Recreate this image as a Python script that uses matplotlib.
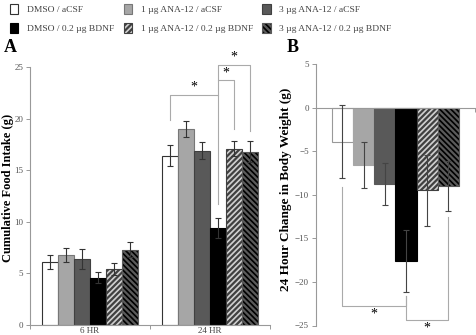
import matplotlib
matplotlib.use("Agg")
import matplotlib.pyplot as plt
import numpy as np

plt.rcParams['font.family'] = ['Liberation Serif', 'DejaVu Serif']
plt.rcParams['hatch.linewidth'] = 1.6

# ---------------- data ----------------
groups = ["DMSO / aCSF", "1 \u00b5g ANA-12 / aCSF", "3 \u00b5g ANA-12 / aCSF",
          "DMSO / 0.2 \u00b5g BDNF", "1 \u00b5g ANA-12 / 0.2 \u00b5g BDNF",
          "3 \u00b5g ANA-12 / 0.2 \u00b5g BDNF"]
timepoints = ["6 HR", "24 HR"]
intake_6hr = [6.1, 6.8, 6.4, 4.6, 5.4, 7.3]
intake_6hr_err = [0.7, 0.7, 1.0, 0.5, 0.6, 0.7]
intake_24hr = [16.4, 19.0, 16.9, 9.4, 17.1, 16.8]
intake_24hr_err = [1.0, 0.8, 0.8, 1.0, 0.7, 1.0]
bw_change = [-3.9, -6.6, -8.8, -17.6, -9.5, -9.0]
bw_change_err = [4.2, 2.65, 2.4, 3.5, 4.05, 2.9]
yticks_a = [0, 5, 10, 15, 20, 25]
yticks_b = [5, 0, -5, -10, -15, -20, -25]

faces = ['white', '#a6a6a6', '#595959', 'black', '#d0d0d0', 'black']
edges_a = ['#333333', '#777777', '#404040', 'black', '#404040', '#5a5a5a']
hatches = [None, None, None, None, '//////', '\\\\\\\\\\\\']

W, H = 477, 335
fig = plt.figure(figsize=(W / 100, H / 100), dpi=100)

axA = fig.add_axes([30 / W, (H - 325) / H, 240 / W, 258 / H])
axB = fig.add_axes([316 / W, (H - 325.5) / H, 159 / W, 261.5 / H])

bw = 0.8 / 6
offsets = (np.arange(6) - 2.5) * bw
centers = np.array([0.5, 1.5])

# ---------- panel A ----------
bars_handles = []
for i in range(6):
    vals = [intake_6hr[i], intake_24hr[i]]
    errs = [intake_6hr_err[i], intake_24hr_err[i]]
    b = axA.bar(centers + offsets[i], vals, width=bw, color=faces[i],
                edgecolor=edges_a[i], linewidth=0.8, hatch=hatches[i],
                label=groups[i], zorder=2)
    bars_handles.append(b)
    axA.errorbar(centers + offsets[i], vals, yerr=errs, fmt='none',
                 ecolor='#333333', elinewidth=0.8, capsize=2.2,
                 capthick=0.8, zorder=3)

axA.set_xlim(0, 2)
axA.set_ylim(0, 25)
axA.set_yticks(yticks_a)
axA.set_xticks(centers)
axA.set_xticklabels(timepoints)
axA.set_xticks([0, 1, 2], minor=True)
axA.tick_params(axis='x', which='major', length=0, pad=1.5, labelsize=6.5,
                labelcolor='#444444')
axA.tick_params(axis='x', which='minor', length=3, width=0.7, color='#999999',
                direction='out')
axA.tick_params(axis='y', length=3, width=0.7, color='#999999', pad=2,
                labelsize=6.5, labelcolor='#555555')
for s in ['top', 'right']:
    axA.spines[s].set_visible(False)
for s in ['left', 'bottom']:
    axA.spines[s].set_color('#999999')
    axA.spines[s].set_linewidth(0.8)
axA.set_ylabel("Cumulative Food Intake (g)", fontsize=9, fontweight='bold')
axA.yaxis.set_label_coords(-0.068, 0.53)

# significance brackets (panel A)
xw, xb, xh, xbh = 1.5 + offsets[0], 1.5 + offsets[3], 1.5 + offsets[4], 1.5 + offsets[5]
br_col = '#aaaaaa'
axA.plot([xw, xw, xb, xb], [19.9, 22.3, 22.3, 11.7], color=br_col, lw=0.8, clip_on=False)
axA.plot([xb, xb, xh, xh], [22.3, 23.7, 23.7, 19.0], color=br_col, lw=0.8, clip_on=False)
axA.plot([xb, xb, xbh, xbh], [23.7, 25.2, 25.2, 18.8], color=br_col, lw=0.8, clip_on=False)
for xm, ym in [((xw + xb) / 2, 22.4), ((xb + xh) / 2, 23.8), ((xb + xbh) / 2, 25.3)]:
    axA.text(xm, ym, '*', ha='center', va='bottom', fontsize=10, clip_on=False)

# ---------- panel B ----------
edges_b = ['#999999', '#a6a6a6', '#595959', 'black', '#404040', '#5a5a5a']
for i in range(6):
    axB.bar(offsets[i], bw_change[i], width=bw, color=faces[i],
            edgecolor=edges_b[i], linewidth=0.8, hatch=hatches[i], zorder=2)
    axB.errorbar(offsets[i], bw_change[i], yerr=bw_change_err[i], fmt='none',
                 ecolor='#444444', elinewidth=0.8, capsize=2.2, capthick=0.8,
                 zorder=3)
axB.set_xlim(-0.5, 0.5)
axB.set_ylim(-25, 5)
axB.set_yticks(yticks_b)
axB.set_xticks([0.5])
axB.set_xticklabels([])
axB.tick_params(axis='x', length=3, width=0.7, color='#999999', direction='out')
axB.tick_params(axis='y', length=3, width=0.7, color='#999999', pad=2,
                labelsize=6.5, labelcolor='#555555')
axB.spines['bottom'].set_position(('data', 0))
for s in ['top', 'right']:
    axB.spines[s].set_visible(False)
for s in ['left', 'bottom']:
    axB.spines[s].set_color('#999999')
    axB.spines[s].set_linewidth(0.8)
axB.set_ylabel("24 Hour Change in Body Weight (g)", fontsize=9.5, fontweight='bold')
axB.yaxis.set_label_coords(-0.151, 0.52)

bxw, bxb, bxbh = offsets[0], offsets[3], offsets[5]
axB.plot([bxw, bxw, bxb, bxb], [-9.1, -22.8, -22.8, -21.6], color=br_col, lw=0.8, clip_on=False)
axB.plot([bxb, bxb, bxbh, bxbh], [-21.6, -24.4, -24.4, -12.5], color=br_col, lw=0.8, clip_on=False)
axB.text((bxw + bxb) / 2, -22.9, '*', ha='center', va='top', fontsize=10, clip_on=False)
axB.text((bxb + bxbh) / 2, -24.5, '*', ha='center', va='top', fontsize=10, clip_on=False)

# panel letters
fig.text(4 / W, 1 - 56 / H, 'A', fontsize=13, fontweight='bold', ha='left', va='bottom')
fig.text(287 / W, 1 - 56 / H, 'B', fontsize=13, fontweight='bold', ha='left', va='bottom')

# legend
order = [0, 3, 1, 4, 2, 5]
leg = fig.legend([bars_handles[i] for i in order], [groups[i] for i in order],
                 ncol=3, loc='upper left', bbox_to_anchor=(8 / W, 1 - 2 / H),
                 frameon=False, fontsize=6.8, handlelength=0.9,
                 handleheight=1.25, handletextpad=0.9, columnspacing=1.0,
                 labelspacing=0.95, borderaxespad=0.0, borderpad=0.2)
for t in leg.get_texts():
    t.set_color('#444444')

fig.savefig('out.png', dpi=100)
